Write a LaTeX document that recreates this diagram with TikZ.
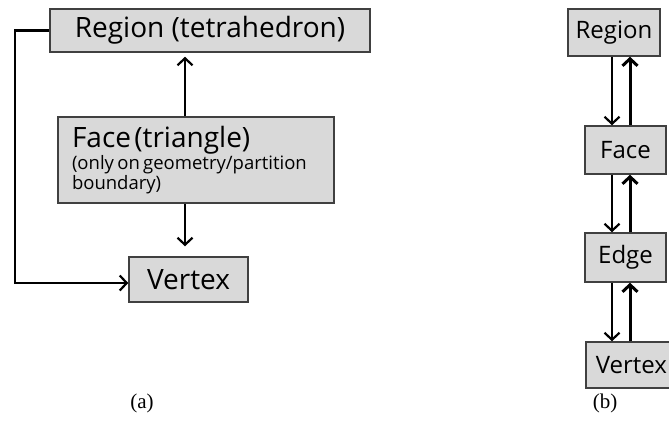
\documentclass[tikz,border=0pt]{standalone}
\usepackage{fontspec}
\setmainfont{Open Sans}
\newfontfamily\capfont{Liberation Serif}
\usetikzlibrary{arrows.meta}

\tikzset{
  box/.style={draw=black!75, fill=black!15, line width=1.5pt, inner sep=0pt},
  bigtext/.style={font=\fontsize{28}{32}\selectfont},
  smalltext/.style={font=\fontsize{24}{28}\selectfont},
  arr/.style={-{Straight Barb[length=7pt,width=15pt]}, line width=2.2pt},
  thickarr/.style={arr, line width=3pt},
  caption/.style={font=\capfont\fontsize{21}{24}\selectfont}
}

\begin{document}
\begin{tikzpicture}[x=1pt, y=-1pt]
    \useasboundingbox (0,0) rectangle (669,426);
    % (a)
    \node[box, bigtext, minimum width=320pt, minimum height=43pt] (regA) at (210,30.5) {Region (tetrahedron)};
    \node[box, minimum width=276pt, minimum height=86pt, text width=248pt, align=left] (faceA) at (196,160)
        {{\fontsize{28}{30}\selectfont Face (triangle)}\\[1pt]
         {\fontsize{18.5}{20}\selectfont (only on geometry/partition\\ boundary)\par}};
    \node[box, bigtext, minimum width=119pt, minimum height=45pt] (vertA) at (188.5,279.5) {Vertex};
    \coordinate (axA) at (185,0);
    \coordinate (lineA) at (15,283);
    \draw[arr, shorten >=4pt] (faceA.north -| axA) -- (regA.south -| axA);
    \draw[arr, shorten >=10pt] (faceA.south -| axA) -- (vertA.north -| axA);
    \draw[arr] (regA.west) -| (lineA) -- (lineA -| vertA.west);
    % (b)
    \node[box, smalltext, minimum width=92pt, minimum height=47pt] (regB) at (614,32.5) {Region};
    \node[box, smalltext, minimum width=81pt, minimum height=48pt] (faceB) at (625.5,150) {Face};
    \node[box, smalltext, minimum width=81pt, minimum height=49pt] (edgeB) at (625.5,257.5) {Edge};
    \node[box, smalltext, minimum height=46pt, inner xsep=10pt, anchor=west] (vertB) at (585,365) {Vertex};
    \coordinate (dnB) at (612,0);
    \coordinate (upB) at (630,0);
    \draw[arr] (regB.south -| dnB) -- (faceB.north -| dnB);
    \draw[thickarr] (faceB.north -| upB) -- (regB.south -| upB);
    \draw[arr] (faceB.south -| dnB) -- (edgeB.north -| dnB);
    \draw[thickarr] (edgeB.north -| upB) -- (faceB.south -| upB);
    \draw[arr] (edgeB.south -| dnB) -- (vertB.north -| dnB);
    \draw[thickarr] (vertB.north -| upB) -- (edgeB.south -| upB);
    % captions
    \node[caption] (capA) at (142,403) {(a)};
    \node[caption] (capB) at (605,403) {(b)};
\end{tikzpicture}
\end{document}
